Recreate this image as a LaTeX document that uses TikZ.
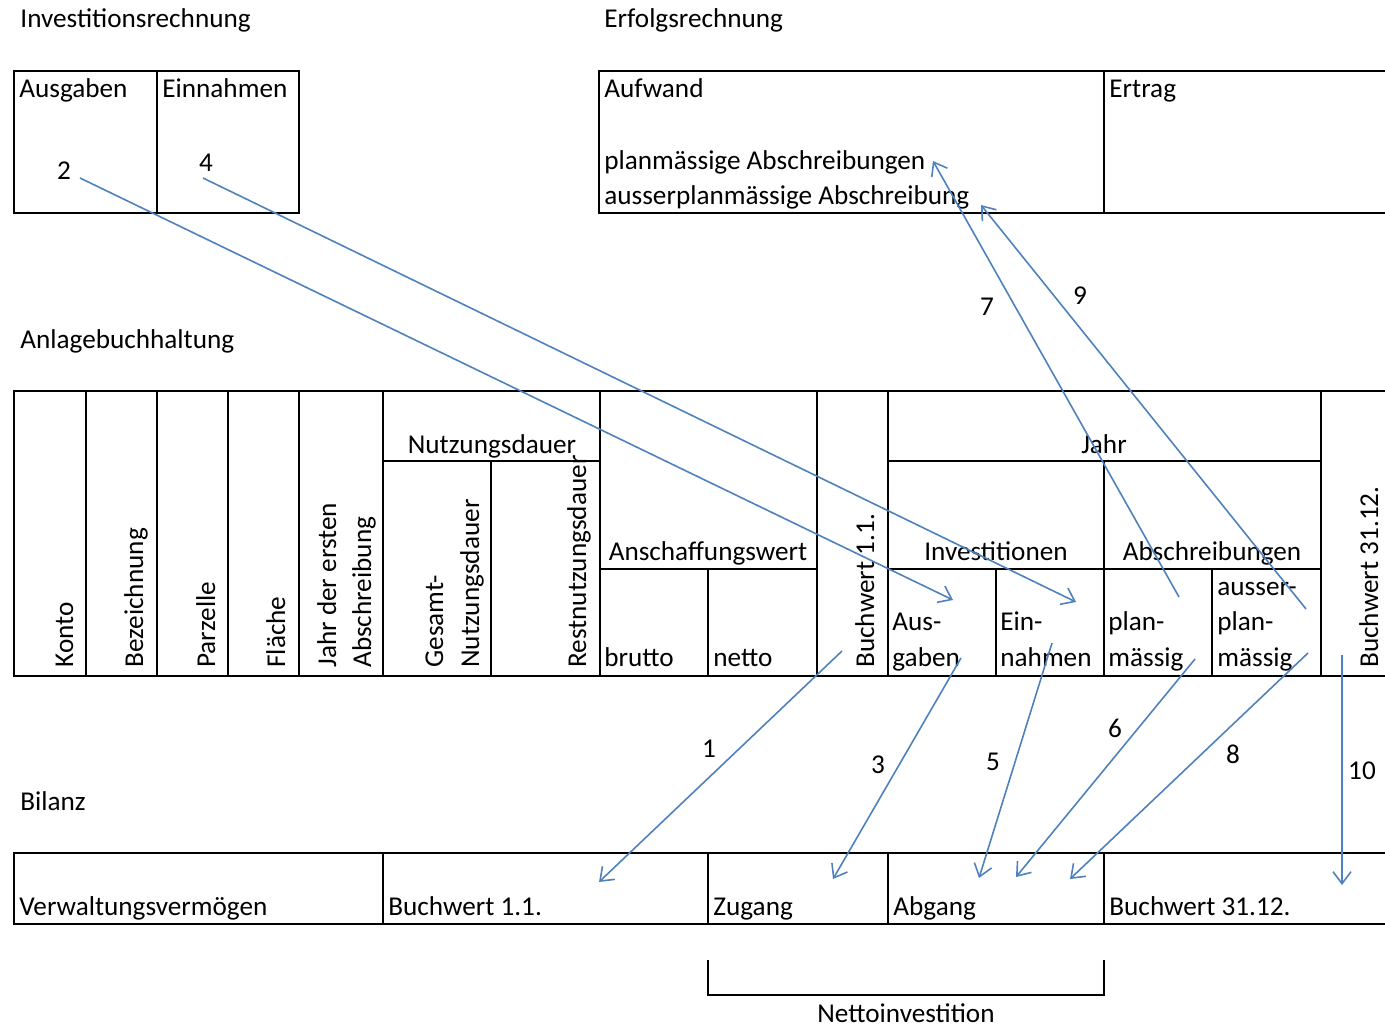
\documentclass[tikz,border=0pt]{standalone}
\usepackage{fontspec}
\setmainfont{Carlito}
\usetikzlibrary{arrows.meta}
\definecolor{flowblue}{RGB}{79,129,189}

\tikzset{
	grid/.style={draw=black,line width=1pt},
	txt/.style={inner sep=0pt,anchor=base west},
	ctxt/.style={inner sep=0pt,anchor=base},
	vtxt/.style={inner sep=0pt,anchor=base west,rotate=90},
	flow/.style={draw=flowblue,line width=0.8pt,-{Straight Barb[length=6pt,width=9pt]}}
}

\begin{document}
\begin{tikzpicture}[x=0.5pt,y=-0.5pt,font=\fontsize{13.6}{18}\selectfont]
	\useasboundingbox (0,0) rectangle (1385,1027);

	% Investitionsrechnung / Erfolgsrechnung
	\draw[grid] (14,71) rectangle (299,213) (157,71) -- (157,213);
	\draw[grid] (1385,71) -- (599,71) -- (599,213) -- (1385,213) (1104,71) -- (1104,213);
	\node[txt] (ir) at (20,28) {Investitionsrechnung};
	\node[txt] (er) at (604,28) {Erfolgsrechnung};
	\node[txt] (ausg) at (19,98) {Ausgaben};
	\node[txt] (einn) at (162,98) {Einnahmen};
	\node[txt] (aufw) at (604,98) {Aufwand};
	\node[txt] (ertr) at (1109,98) {Ertrag};
	\node[txt] (plab) at (604,170) {planmässige Abschreibungen};
	\node[txt] (apab) at (604,205) {ausserplanmässige Abschreibung};

	% Anlagebuchhaltung
	\node[txt] (ab) at (20,348) {Anlagebuchhaltung};
	\draw[grid] (1385,391) -- (14,391) -- (14,676) -- (1385,676);
	\foreach \x in {86,157,228,299,383,600,817,888,1321}
		\draw[grid] (\x,391) -- (\x,676);
	\draw[grid] (383,461) -- (600,461) (491,461) -- (491,676);
	\draw[grid] (600,569) -- (817,569) (708,569) -- (708,676);
	\draw[grid] (888,461) -- (1321,461) (1104,461) -- (1104,676)
		(888,569) -- (1321,569) (996,569) -- (996,676) (1212,569) -- (1212,676);
	\node[vtxt] (konto) at (73,668) {Konto};
	\node[vtxt] (bez) at (143,668) {Bezeichnung};
	\node[vtxt] (parz) at (215,668) {Parzelle};
	\node[vtxt] (flae) at (285,668) {Fläche};
	\node[vtxt] (jahr1) at (336,668) {Jahr der ersten};
	\node[vtxt] (jahr2) at (371,668) {Abschreibung};
	\node[vtxt] (ges1) at (443,668) {Gesamt-};
	\node[vtxt] (ges2) at (479,668) {Nutzungsdauer};
	\node[vtxt] (rest) at (586,668) {Restnutzungsdauer};
	\node[vtxt] (bw11) at (874,668) {Buchwert 1.1.};
	\node[vtxt] (bw3112) at (1378,668) {Buchwert 31.12.};
	\node[ctxt] (nutz) at (492,453) {Nutzungsdauer};
	\node[ctxt] (jahr) at (1104,453) {Jahr};
	\node[ctxt] (ansch) at (708,560) {Anschaffungswert};
	\node[ctxt] (inv) at (996,560) {Investitionen};
	\node[ctxt] (abschr) at (1212,560) {Abschreibungen};
	\node[txt] (brutto) at (604,666) {brutto};
	\node[txt] (netto) at (713,666) {netto};
	\node[txt] (aus1) at (892,630) {Aus-};
	\node[txt] (aus2) at (892,666) {gaben};
	\node[txt] (ein1) at (1000,630) {Ein-};
	\node[txt] (ein2) at (1000,666) {nahmen};
	\node[txt] (pl1) at (1108,630) {plan-};
	\node[txt] (pl2) at (1108,666) {mässig};
	\node[txt] (apl1) at (1217,595) {ausser-};
	\node[txt] (apl2) at (1217,630) {plan-};
	\node[txt] (apl3) at (1217,666) {mässig};

	% Bilanz
	\node[txt] (bil) at (20,810) {Bilanz};
	\draw[grid] (1385,853) -- (14,853) -- (14,924) -- (1385,924);
	\foreach \x in {383,708,888,1104}
		\draw[grid] (\x,853) -- (\x,924);
	\node[txt] (vv) at (19,915) {Verwaltungsvermögen};
	\node[txt] (bbw11) at (388,915) {Buchwert 1.1.};
	\node[txt] (zug) at (713,915) {Zugang};
	\node[txt] (abg) at (893,915) {Abgang};
	\node[txt] (bbw3112) at (1109,915) {Buchwert 31.12.};
	\draw[grid] (708,960) -- (708,995) -- (1104,995) -- (1104,960);
	\node[ctxt] (netinv) at (906,1022) {Nettoinvestition};

	% Flows
	\coordinate (s1) at (842,651);  \coordinate (e1) at (599,882);
	\coordinate (s2) at (80,178);   \coordinate (e2) at (953,600);
	\coordinate (s3) at (961,658);  \coordinate (e3) at (833,879);
	\coordinate (s4) at (203,178);  \coordinate (e4) at (1076,602);
	\coordinate (s5) at (1052,643); \coordinate (e5) at (979,878);
	\coordinate (s6) at (1195,659); \coordinate (e6) at (1016,877);
	\coordinate (s7) at (1179,597); \coordinate (e7) at (933,161);
	\coordinate (s8) at (1308,653); \coordinate (e8) at (1070,879);
	\coordinate (s9) at (1306,609); \coordinate (e9) at (981,205);
	\coordinate (s10) at (1342,655); \coordinate (e10) at (1342,885);
	\path[every edge/.append style={flow}]
		(s1) edge (e1) (s2) edge (e2) (s3) edge (e3) (s4) edge (e4) (s5) edge (e5)
		(s6) edge (e6) (s7) edge (e7) (s8) edge (e8) (s9) edge (e9) (s10) edge (e10);
	\node[ctxt] (n1) at (709,757) {1};
	\node[ctxt] (n2) at (64,180) {2};
	\node[ctxt] (n3) at (878,773) {3};
	\node[ctxt] (n4) at (206,172) {4};
	\node[ctxt] (n5) at (993,770) {5};
	\node[ctxt] (n6) at (1115,737) {6};
	\node[ctxt] (n7) at (987,315) {7};
	\node[ctxt] (n8) at (1233,763) {8};
	\node[ctxt] (n9) at (1080,304) {9};
	\node[ctxt] (n10) at (1362,779) {10};
\end{tikzpicture}
\end{document}
